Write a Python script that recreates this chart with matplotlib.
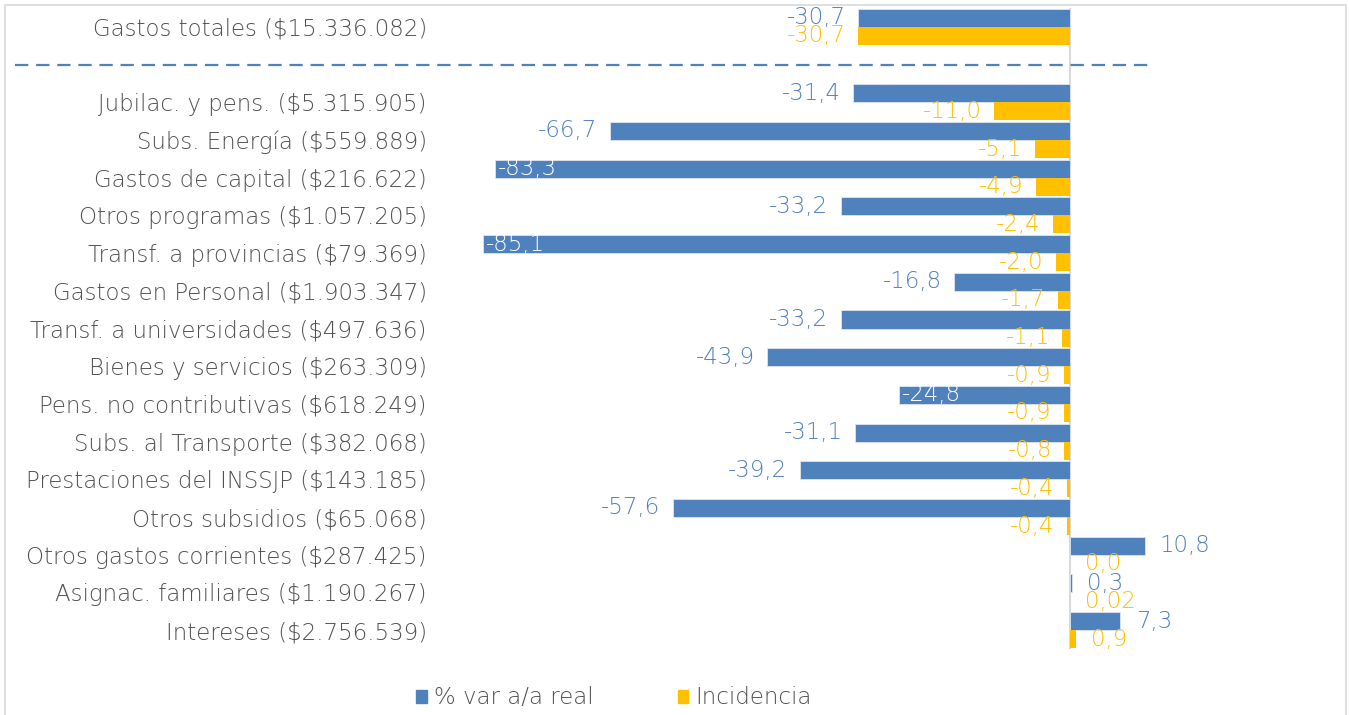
import matplotlib
matplotlib.use("Agg")
import matplotlib.pyplot as plt
from matplotlib.patches import Patch, Rectangle
from matplotlib.lines import Line2D
from matplotlib import transforms

# ---- datos ----
categorias = [
    "Gastos totales ($15.336.082)",
    "",
    "Jubilac. y pens. ($5.315.905)",
    "Subs. Energía ($559.889)",
    "Gastos de capital ($216.622)",
    "Otros programas ($1.057.205)",
    "Transf. a provincias ($79.369)",
    "Gastos en Personal ($1.903.347)",
    "Transf. a universidades ($497.636)",
    "Bienes y servicios ($263.309)",
    "Pens. no contributivas ($618.249)",
    "Subs. al Transporte ($382.068)",
    "Prestaciones del INSSJP ($143.185)",
    "Otros subsidios ($65.068)",
    "Otros gastos corrientes ($287.425)",
    "Asignac. familiares ($1.190.267)",
    "Intereses ($2.756.539)",
]
var_real = [-30.7, None, -31.4, -66.7, -83.3, -33.2, -85.1, -16.8, -33.2,
            -43.9, -24.8, -31.1, -39.2, -57.6, 10.8, 0.3, 7.3]
incidencia = [-30.7, None, -11.0, -5.1, -4.9, -2.4, -2.0, -1.7, -1.1,
              -0.9, -0.9, -0.8, -0.4, -0.4, 0.0, 0.02, 0.9]
# etiquetas que van dentro de la barra (blancas)
dentro = [False, False, False, False, True, False, True, False, False,
          False, True, False, False, False, False, False, False]

AZUL = "#4F81BD"
AMAR = "#FFC000"
GRIS = "#505050"
FS = 16.5

plt.rcParams["font.family"] = ["DejaVu Sans"]
plt.rcParams["font.weight"] = "light"

W, H = 1349, 715
fig = plt.figure(figsize=(W / 100, H / 100), dpi=100)
ax = fig.add_axes([435.2 / W, 1 - 649 / H, 897 / W, (649 - 8) / H])

def fmt(v):
    if v != 0 and abs(v) < 0.05:
        s = f"{v:.2f}"
    else:
        s = f"{v:.1f}"
    return s.replace(".", ",")

h = 0.48
for i in range(len(categorias)):
    v1 = var_real[i]
    v2 = incidencia[i]
    if v1 is None:
        continue
    ax.barh(i - h / 2, v1, height=h, color=AZUL, edgecolor="#dce6f2", linewidth=0.6)
    ax.barh(i + h / 2, v2, height=h, color=AMAR, linewidth=0)
    # etiqueta azul
    if dentro[i]:
        ax.annotate(fmt(v1), (v1, i - h / 2), xytext=(2, 0), textcoords="offset points",
                    ha="left", va="center", color="white", fontsize=FS)
    elif v1 < 0:
        ax.annotate(fmt(v1), (v1, i - h / 2), xytext=(-9, 0), textcoords="offset points",
                    ha="right", va="center", color=AZUL, fontsize=FS)
    else:
        ax.annotate(fmt(v1), (v1, i - h / 2), xytext=(11, 0), textcoords="offset points",
                    ha="left", va="center", color=AZUL, fontsize=FS)
    # etiqueta amarilla
    if v2 < 0:
        ax.annotate(fmt(v2), (v2, i + h / 2), xytext=(-9, 0), textcoords="offset points",
                    ha="right", va="center", color=AMAR, fontsize=FS)
    else:
        ax.annotate(fmt(v2), (v2, i + h / 2), xytext=(11, 0), textcoords="offset points",
                    ha="left", va="center", color=AMAR, fontsize=FS)

ax.set_xlim(-92, 38)
ax.set_ylim(len(categorias) - 0.5, -0.5)
ax.axvline(0, color="#d9d9d9", lw=1.5, zorder=0)

ax.set_yticks(range(len(categorias)))
ax.set_yticklabels(categorias, fontsize=FS, color=GRIS)
ax.tick_params(axis="y", length=0, pad=6)
ax.set_xticks([])
for s in ax.spines.values():
    s.set_visible(False)
ax.patch.set_alpha(0)

# linea punteada que separa el total
tr = transforms.blended_transform_factory(fig.transFigure, ax.transData)
fig.add_artist(Line2D([15 / W, 1148 / W], [1, 1], transform=tr, color=AZUL,
                      lw=1.6, dashes=(6, 3.5)))

# borde del grafico
fig.add_artist(Rectangle((5 / W, -0.05), 1341 / W, 1.05 - 5 / H, transform=fig.transFigure,
                         fill=False, edgecolor="#d9d9d9", lw=1.2))

handles = [Patch(color=AZUL, label="% var a/a real"), Patch(color=AMAR, label="Incidencia")]
fig.legend(handles=handles, loc="center", bbox_to_anchor=(614 / W, 1 - 698 / H), ncol=2,
           frameon=False, fontsize=FS, labelcolor=GRIS, handlelength=0.45, handleheight=0.5,
           handletextpad=0.3, columnspacing=3.7)

fig.savefig("out.png", dpi=100)
